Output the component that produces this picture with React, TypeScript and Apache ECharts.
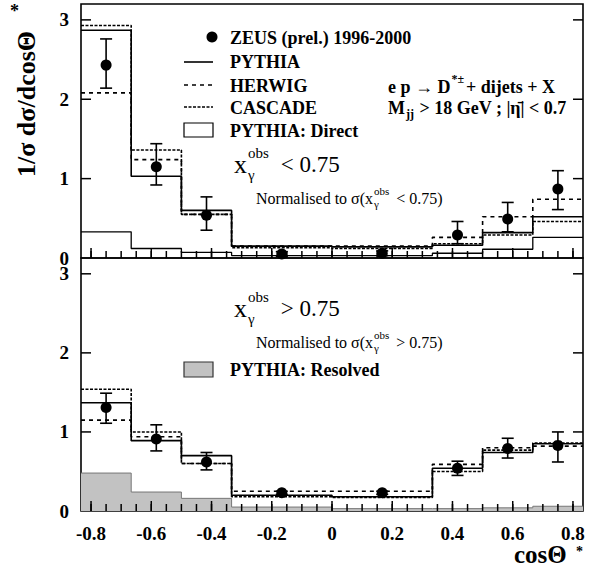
import React, { useEffect, useRef } from 'react';
import * as echarts from 'echarts';

// ---- data ----
const binEdges = [-5 / 6, -4 / 6, -3 / 6, -2 / 6, 0, 2 / 6, 3 / 6, 4 / 6, 5 / 6];
const xTickLabels = [-0.8, -0.6, -0.4, -0.2, 0, 0.2, 0.4, 0.6, 0.8];
const yTicks = [1, 2, 3];

// upper panel: x_gamma^obs < 0.75
const lowPythia = [2.87, 1.03, 0.6, 0.15, 0.14, 0.16, 0.32, 0.52];
const lowHerwig = [2.08, 1.24, 0.55, 0.15, 0.15, 0.26, 0.52, 0.74];
const lowCascade = [2.93, 1.36, 0.55, 0.13, 0.12, 0.18, 0.29, 0.46];
const lowDirect = [0.33, 0.12, 0.07, 0.03, 0.03, 0.06, 0.11, 0.26];
const lowData = [2.43, 1.15, 0.54, 0.05, 0.06, 0.29, 0.49, 0.87];
const lowErrUp = [0.33, 0.29, 0.23, 0.03, 0.03, 0.17, 0.21, 0.23];
const lowErrDown = [0.29, 0.23, 0.19, 0.03, 0.03, 0.11, 0.16, 0.26];

// lower panel: x_gamma^obs > 0.75
const highPythia = [1.37, 0.89, 0.7, 0.2, 0.18, 0.54, 0.74, 0.85];
const highHerwig = [1.15, 0.94, 0.6, 0.25, 0.25, 0.59, 0.8, 0.82];
const highCascade = [1.54, 1.0, 0.6, 0.18, 0.17, 0.5, 0.77, 0.86];
const highResolved = [0.48, 0.24, 0.16, 0.05, 0.03, 0.03, 0.04, 0.06];
const highData = [1.31, 0.91, 0.62, 0.23, 0.23, 0.54, 0.79, 0.83];
const highErrUp = [0.18, 0.18, 0.12, 0.02, 0.02, 0.09, 0.13, 0.17];
const highErrDown = [0.2, 0.15, 0.1, 0.02, 0.02, 0.09, 0.12, 0.21];

const F = '"Liberation Serif","Times New Roman",Times,serif';

const minorTicks: number[] = [];
for (let i = -16; i <= 16; i++) minorTicks.push(i * 0.05);

function stepData(vals: number[]) {
  return binEdges.map((e, i) => [e, vals[Math.min(i, vals.length - 1)]]);
}
function centers() {
  return binEdges.slice(0, -1).map((e, i) => (e + binEdges[i + 1]) / 2);
}

let ctx: CanvasRenderingContext2D | null = null;
function measure(text: string, size: number, weight: string) {
  if (!ctx) ctx = document.createElement('canvas').getContext('2d');
  if (!ctx) return text.length * size * 0.5;
  ctx.font = `${weight} ${size}px ${F}`;
  return ctx.measureText(text).width;
}

type Part = { t: string; s: number; w?: string; dy?: number; gap?: number; back?: boolean };
function seq(parts: Part[], x: number, y: number) {
  const out: any[] = [];
  let cx = x;
  let lastW = 0;
  parts.forEach((p) => {
    const w = p.w || 'bold';
    let px = cx + (p.gap || 0);
    if (p.back) px = cx - lastW + (p.gap || 0);
    out.push({
      type: 'text',
      x: px,
      y: y + (p.dy || 0),
      style: { text: p.t, fontSize: p.s, fontWeight: w, fontFamily: F, fill: '#000', textAlign: 'left', textVerticalAlign: 'middle' },
    });
    const mw = measure(p.t, p.s, w);
    if (p.back) {
      cx = Math.max(cx, px + mw);
    } else {
      lastW = mw;
      cx = px + mw;
    }
  });
  return out;
}

const ST = { stroke: '#000', lineWidth: 1.5 };

function errSeries(xi: number, yi: number, vals: number[], up: number[], dn: number[]) {
  const c = centers();
  return {
    type: 'custom',
    xAxisIndex: xi,
    yAxisIndex: yi,
    z: 5,
    data: vals.map((v, i) => [c[i], v, up[i], dn[i]]),
    renderItem: (params: any, api: any) => {
      const x = api.value(0);
      const y = api.value(1);
      const top = api.coord([x, y + api.value(2)]);
      const bot = api.coord([x, y - api.value(3)]);
      const h = 6;
      const st = { stroke: '#000', lineWidth: 1.6 };
      return {
        type: 'group',
        children: [
          { type: 'line', shape: { x1: top[0], y1: top[1], x2: bot[0], y2: bot[1] }, style: st },
          { type: 'line', shape: { x1: top[0] - h, y1: top[1], x2: top[0] + h, y2: top[1] }, style: st },
          { type: 'line', shape: { x1: bot[0] - h, y1: bot[1], x2: bot[0] + h, y2: bot[1] }, style: st },
        ],
      };
    },
  };
}

// tick marks drawn through the axes' own scales
function xTickSeries(xi: number, yi: number, values: number[], len: number) {
  return {
    type: 'custom',
    xAxisIndex: xi,
    yAxisIndex: yi,
    z: 8,
    silent: true,
    data: values.map((v) => [v, 0]),
    renderItem: (params: any, api: any) => {
      const p = api.coord([api.value(0), 0]);
      return { type: 'line', shape: { x1: p[0], y1: p[1], x2: p[0], y2: p[1] - len }, style: ST };
    },
  };
}
function yTickSeries(xi: number, yi: number, values: number[], len: number) {
  return {
    type: 'custom',
    xAxisIndex: xi,
    yAxisIndex: yi,
    z: 8,
    silent: true,
    data: values.map((v) => [0, v]),
    renderItem: (params: any, api: any) => {
      const cs = params.coordSys;
      const p = api.coord([0, api.value(1)]);
      return {
        type: 'group',
        children: [
          { type: 'line', shape: { x1: cs.x, y1: p[1], x2: cs.x + len, y2: p[1] }, style: ST },
          { type: 'line', shape: { x1: cs.x + cs.width - len, y1: p[1], x2: cs.x + cs.width, y2: p[1] }, style: ST },
        ],
      };
    },
  };
}

function hist(name: string, xi: number, yi: number, vals: number[], type: any, width = 1.6, extra: any = {}) {
  return {
    name,
    type: 'line',
    xAxisIndex: xi,
    yAxisIndex: yi,
    step: 'end',
    symbol: 'none',
    data: stepData(vals),
    lineStyle: { color: '#000', width, type },
    z: 3,
    ...extra,
  };
}

function dataSeries(xi: number, yi: number, vals: number[]) {
  const c = centers();
  return {
    type: 'scatter',
    xAxisIndex: xi,
    yAxisIndex: yi,
    symbol: 'circle',
    symbolSize: 11,
    itemStyle: { color: '#000', opacity: 1 },
    z: 6,
    data: vals.map((v, i) => [c[i], v]),
  };
}

const GL = 81;
const GW = 502;
const TOP0 = 4;
const H0 = 254;
const TOP1 = 258;
const H1 = 253;

function xAxis(grid: number, labels: boolean) {
  return {
    gridIndex: grid,
    type: 'value',
    min: -5 / 6,
    max: 5 / 6,
    position: 'bottom',
    axisLine: { show: false, onZero: false },
    axisTick: { show: false },
    splitLine: { show: false },
    axisLabel: {
      show: labels,
      customValues: xTickLabels,
      fontFamily: F,
      fontWeight: 'bold',
      fontSize: 19,
      color: '#000',
      margin: 13,
      formatter: (v: number) => String(Math.round(v * 10) / 10),
    },
  };
}

function yAxis(grid: number) {
  return {
    gridIndex: grid,
    type: 'value',
    min: 0,
    max: 3.2,
    interval: 1,
    position: 'left',
    splitLine: { show: false },
    axisLine: { show: false, onZero: false },
    axisTick: { show: false },
    axisLabel: { show: true, fontFamily: F, fontWeight: 'bold', fontSize: 19, color: '#000', margin: 12 },
  };
}

function buildGraphic() {
  const g: any[] = [];
  const txt = (t: string, x: number, y: number, s: number, w = 'bold') =>
    g.push({
      type: 'text',
      x,
      y,
      style: { text: t, fontSize: s, fontWeight: w, fontFamily: F, fill: '#000', textAlign: 'left', textVerticalAlign: 'middle' },
    });
  // legend
  g.push({ type: 'circle', shape: { cx: 212, cy: 37, r: 5.5 }, style: { fill: '#000' } });
  txt('ZEUS (prel.) 1996-2000', 230, 38, 18);
  g.push({ type: 'line', shape: { x1: 184, y1: 62, x2: 213, y2: 62 }, style: { stroke: '#000', lineWidth: 1.6 } });
  txt('PYTHIA', 230, 62, 18);
  g.push({ type: 'line', shape: { x1: 184, y1: 85, x2: 213, y2: 85 }, style: { stroke: '#000', lineWidth: 1.6, lineDash: [4, 4] } });
  txt('HERWIG', 230, 86, 18);
  g.push({ type: 'line', shape: { x1: 184, y1: 107, x2: 213, y2: 107 }, style: { stroke: '#000', lineWidth: 1.6, lineDash: [3, 1.5] } });
  txt('CASCADE', 230, 108, 18);
  g.push({ type: 'rect', shape: { x: 184, y: 123, width: 29, height: 14 }, style: { fill: '#fff', stroke: '#000', lineWidth: 1.2 } });
  txt('PYTHIA: Direct', 230, 131, 18);

  g.push(...seq([{ t: 'e p \u2192 D', s: 18 }, { t: '*\u00b1', s: 12, dy: -8, gap: 1 }, { t: '+ dijets + X', s: 18, gap: 2 }], 388, 87));
  g.push(...seq([{ t: 'M', s: 18 }, { t: 'jj', s: 12, dy: 6, gap: 1 }, { t: ' > 18 GeV ; |\u03b7\u0304| < 0.7', s: 18, gap: 1 }], 388, 108));

  // panel labels
  const xg = (y: number, rest: string) =>
    seq([{ t: 'x', s: 26, w: 'normal' }, { t: 'obs', s: 15, w: 'normal', dy: -11, gap: 1 }, { t: '\u03b3', s: 15, w: 'normal', dy: 11, back: true, gap: 0 }, { t: rest, s: 23, w: 'normal', gap: 12 }], 234, y);
  g.push(...xg(164, '< 0.75'));
  g.push(...xg(308, '> 0.75'));
  const norm = (y: number, rest: string) =>
    seq([{ t: 'Normalised to \u03c3(x', s: 16, w: 'normal' }, { t: 'obs', s: 11, w: 'normal', dy: -7, gap: 1 }, { t: '\u03b3', s: 11, w: 'normal', dy: 6, back: true, gap: 0 }, { t: rest, s: 16, w: 'normal', gap: 7 }], 256, y);
  g.push(...norm(198, '< 0.75)'));
  g.push(...norm(342, '> 0.75)'));

  g.push({ type: 'rect', shape: { x: 184, y: 362, width: 29, height: 15 }, style: { fill: '#c2c2c2', stroke: '#333', lineWidth: 1.2 } });
  txt('PYTHIA: Resolved', 230, 370, 18);

  // axis titles
  g.push({
    type: 'text',
    x: 26,
    y: 104,
    rotation: Math.PI / 2,
    style: { text: '1/\u03c3 d\u03c3/dcos\u0398', fontSize: 26, fontWeight: 'bold', fontFamily: F, fill: '#000', textAlign: 'center', textVerticalAlign: 'middle' },
  });
  txt('*', 10, 11, 18);
  txt('cos\u0398', 514, 554, 25);
  txt('*', 576, 551, 14);
  return g;
}

export default function App() {
  const ref = useRef<HTMLDivElement>(null);
  useEffect(() => {
    if (!ref.current) return;
    const chart = echarts.init(ref.current, null, { renderer: 'svg' });
    const option: any = {
      animation: false,
      backgroundColor: '#fff',
      grid: [
        { left: GL, top: TOP0, width: GW, height: H0, show: true, borderColor: '#000', borderWidth: 1.6, backgroundColor: 'transparent' },
        { left: GL, top: TOP1, width: GW, height: H1, show: true, borderColor: '#000', borderWidth: 1.6, backgroundColor: 'transparent' },
      ],
      xAxis: [xAxis(0, false), xAxis(1, true)],
      yAxis: [yAxis(0), yAxis(1)],
      series: [
        xTickSeries(0, 0, minorTicks, 7),
        xTickSeries(0, 0, xTickLabels, 10),
        yTickSeries(0, 0, yTicks, 10),
        xTickSeries(1, 1, minorTicks, 7),
        xTickSeries(1, 1, xTickLabels, 10),
        yTickSeries(1, 1, yTicks, 10),
        hist('PYTHIA: Direct', 0, 0, lowDirect, 'solid', 1.3),
        hist('HERWIG', 0, 0, lowHerwig, [4, 4]),
        hist('CASCADE', 0, 0, lowCascade, [3, 1.5]),
        hist('PYTHIA', 0, 0, lowPythia, 'solid'),
        errSeries(0, 0, lowData, lowErrUp, lowErrDown),
        dataSeries(0, 0, lowData),
        hist('PYTHIA: Resolved', 1, 1, highResolved, 'solid', 1, {
          lineStyle: { color: '#777', width: 1 },
          areaStyle: { color: '#c2c2c2', opacity: 1 },
          z: 1,
        }),
        hist('HERWIG', 1, 1, highHerwig, [4, 4]),
        hist('CASCADE', 1, 1, highCascade, [3, 1.5]),
        hist('PYTHIA', 1, 1, highPythia, 'solid'),
        errSeries(1, 1, highData, highErrUp, highErrDown),
        dataSeries(1, 1, highData),
      ],
      graphic: buildGraphic(),
    };
    chart.setOption(option);
    return () => chart.dispose();
  }, []);
  return <div ref={ref} style={{ width: 590, height: 567, position: 'absolute', left: 0, top: 0 }} />;
}
